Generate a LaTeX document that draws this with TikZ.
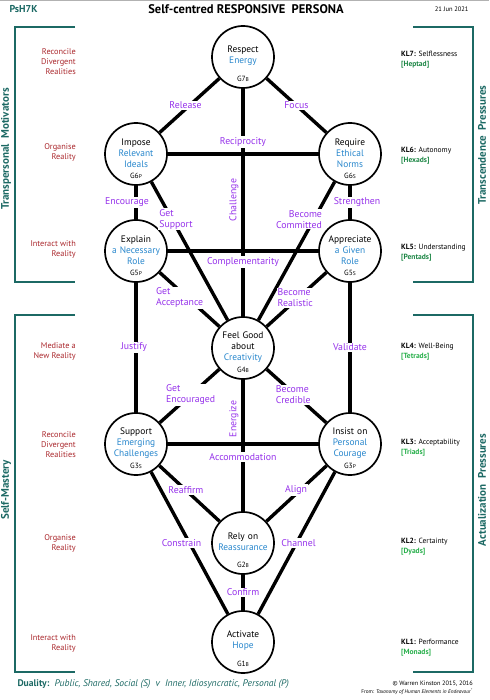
\documentclass[tikz,border=0pt]{standalone}
\usepackage{fontspec}
\setmainfont{PT Sans}
\definecolor{gteal}{RGB}{28,105,100}
\definecolor{gred}{RGB}{170,40,45}
\definecolor{gviolet}{RGB}{150,50,235}
\definecolor{gblue}{RGB}{40,135,205}
\definecolor{kdark}{RGB}{30,135,70}
\definecolor{klight}{RGB}{40,175,75}
\newcommand\gs[1]{\raisebox{-.4pt}{\fontsize{5.5}{6}\selectfont #1}}
\tikzset{
    gate/.style={circle, draw, line width=1.7pt, fill=white, minimum size=62pt, inner sep=0pt},
    gtext/.style={text width=62pt, align=center, font=\fontsize{9.4}{11}\selectfont, inner sep=0pt},
    gtag/.style={font=\fontsize{7.5}{8}\selectfont, inner sep=0pt},
    link/.style={line width=3.4pt},
    verbtxt/.style={text=gviolet, fill=white, inner sep=1.2pt, font=\fontsize{9.8}{10.8}\selectfont},
    bracket/.style={draw=gteal, line width=1.8pt},
    banner/.style={text=gteal, font=\fontsize{11}{12}\selectfont\bfseries, rotate=90},
    realm/.style={text=gred, align=right, anchor=east, inner sep=0pt, font=\fontsize{8.3}{10}\selectfont},
    kl/.style={align=left, anchor=west, inner sep=0pt, font=\fontsize{7.5}{10}\selectfont},
}
\begin{document}
\begin{tikzpicture}[x=1pt, y=-1pt]
            \useasboundingbox (0,0) rectangle (489,700);
            \draw[gray!60, line width=1pt] (0,0.5) -- (489,0.5);
            \node[anchor=west, text=gteal, font=\fontsize{10}{12}\selectfont\bfseries] (code) at (6,9) {PsH7K};
            \node[font=\fontsize{12.5}{14}\selectfont\bfseries] (title) at (246,9) {Self-centred RESPONSIVE\ \ PERSONA};
            \node[anchor=east, font=\fontsize{6.5}{8}\selectfont] (date) at (472,9) {21 Jun 2021};
            \draw[bracket] (75,27) -- (15,27) -- (15,282) -- (75,282);
            \draw[bracket] (75,315) -- (15,315) -- (15,672) -- (75,672);
            \draw[bracket] (413,27) -- (473,27) -- (473,282) -- (413,282);
            \draw[bracket] (413,315) -- (473,315) -- (473,672) -- (413,672);
            \node[banner] (motiv) at (6,149) {Transpersonal\ \ Motivators};
            \node[banner] (mastery) at (6,490) {Self-Mastery};
            \node[banner] (transc) at (482,145) {Transcendence\ \ Pressures};
            \node[banner] (actual) at (482,490) {Actualization\ \ Pressures};
            \foreach \y/\t [count=\i] in {62/{Reconcile\\Divergent\\Realities}, 152/{Organise\\Reality},
                249/{Interact with\\Reality}, 351/{Mediate a\\New Reality}, 445/{Reconcile\\Divergent\\Realities},
                543/{Organise\\Reality}, 643/{Interact with\\Reality}} {
                \node[realm] (realm\i) at (76,\y) {\t};
            }
            \foreach \y/\lv/\w/\s/\col in {60/7/Selflessness/Heptad/kdark, 156/6/Autonomy/Hexads/kdark,
                253/5/Understanding/Pentads/kdark, 352/4/Well-Being/Tetrads/klight, 448/3/Acceptability/Triads/klight,
                547/2/Certainty/Dyads/klight, 648/1/Performance/Monads/klight} {
                \node[kl] (kl\lv) at (401,\y) {\textbf{KL\lv:} \w\\\textcolor{\col}{\textbf{[\s]}}};
            }
            \foreach \n/\x/\y/\a/\b/\g in {
                G7B/243/57/{Respect}/{Energy}/{7\gs{B}},
                G6P/136/154/{Impose}/{Relevant\\Ideals}/{6\gs{P}},
                G6S/350/154/{Require}/{Ethical\\Norms}/{6\gs{S}},
                G5P/136/251/{Explain}/{a Necessary\\Role}/{5\gs{P}},
                G5S/350/251/{Appreciate}/{a Given\\Role}/{5\gs{S}},
                G4B/243/348/{Feel Good\\about}/{Creativity}/{4\gs{B}},
                G3S/136/444/{Support}/{Emerging\\Challenges}/{3\gs{S}},
                G3P/350/444/{Insist on}/{Personal\\Courage}/{3\gs{P}},
                G2B/243/543/{Rely on}/{Reassurance}/{2\gs{B}},
                G1B/243/642/{Activate}/{Hope}/{1\gs{B}}} {
                \node[gate] (\n) at (\x,\y) {};
                \node[gtext] (\n-t) at (\x,\y-1) {\a\\{\color{gblue}\b}};
                \node[gtag] (\n-g) at (\x,\y+22) {G\g};
            }
            \foreach \a/\b in {G7B/G6P, G7B/G6S, G7B/G4B, G6P/G6S, G6P/G5P, G6S/G5S, G6P/G4B, G6S/G4B,
                G5P/G5S, G5P/G4B, G5S/G4B, G5P/G3S, G5S/G3P, G4B/G3S, G4B/G3P, G4B/G2B,
                G3S/G3P, G3S/G2B, G3P/G2B, G3S/G1B, G3P/G1B, G2B/G1B} {
                \draw[link] (\a) -- (\b);
            }
            \foreach \a/\b/\p/\dx/\dy/\al/\t in {
                G7B/G6P/.5/-4/0/center/Release, G7B/G6S/.5/0/0/center/Focus,
                G6P/G6S/.5/0/12/center/Reciprocity, G5P/G5S/.5/0/-11/center/Complementarity,
                G3S/G3P/.5/0/-13/center/Accommodation,
                G6P/G5P/.5/-9/0/center/Encourage, G6S/G5S/.5/7/0/center/Strengthen,
                G6P/G4B/.27/4/0/left/{Get\\Support}, G6S/G4B/.27/-15/0/right/{Become\\Committed},
                G5P/G4B/.47/-8/0/left/{Get\\Acceptance}, G5S/G4B/.47/-3/0/left/{Become\\Realistic},
                G5P/G3S/.5/-2/0/center/Justify, G5S/G3P/.5/0/0/center/Validate,
                G4B/G3S/.48/0/0/left/{Get\\Encouraged}, G4B/G3P/.48/-2/0/left/{Become\\Credible},
                G3S/G2B/.44/0/0/center/Reaffirm, G3P/G2B/.44/-4/0/center/Align,
                G3S/G1B/.5/-8/0/center/Constrain, G3P/G1B/.5/2/0/center/Channel,
                G2B/G1B/.5/0/0/center/Confirm} {
                \path (\a) -- node[verbtxt, pos=\p, xshift=\dx pt, yshift=\dy pt, align=\al] {\t} (\b);
            }
            \node[verbtxt, rotate=90] (challenge) at (234,200) {Challenge};
            \node[verbtxt, rotate=90] (energize) at (234,419) {Energize};
            \node[anchor=west, text=gteal, font=\fontsize{9.6}{11}\selectfont] (duality) at (14,684)
                {\textbf{Duality:}\ \ \textit{Public, Shared, Social (S)\ \ v\ \ Inner, Idiosyncratic, Personal (P)}};
            \node[anchor=east, inner sep=0pt, font=\fontsize{6.3}{7}\selectfont] (copy) at (473,684) {© Warren Kinston 2015, 2016};
            \node[anchor=east, inner sep=0pt, font=\fontsize{5.3}{6}\selectfont] (source) at (473,692)
                {From: \textit{Taxonomy of Human Elements in Endeavour}\textsuperscript{*}};
\end{tikzpicture}
\end{document}
